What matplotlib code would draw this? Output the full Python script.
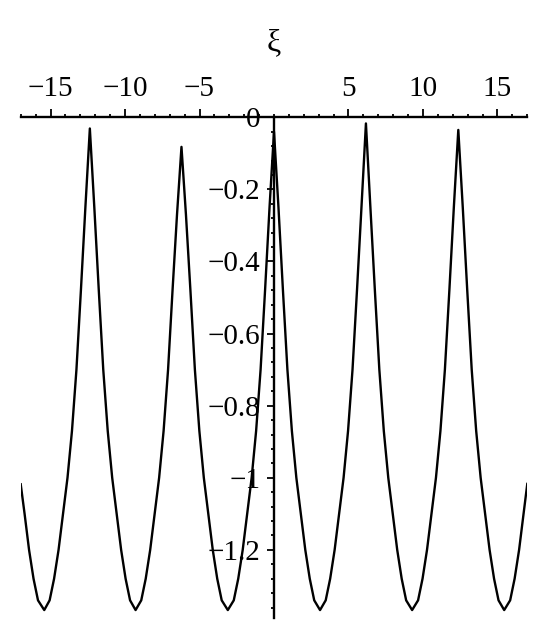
import matplotlib

matplotlib.use("Agg")
import matplotlib.pyplot as plt
import matplotlib.transforms as mtransforms
from matplotlib.ticker import FuncFormatter, MultipleLocator

# values (peaks near 0, minima near -1.367)
xi = [
    -17.00, -16.74, -16.44, -16.14, -15.84, -15.42,
    -15.06, -14.76, -14.46, -14.16, -13.86, -13.56, -13.26, -12.96, -12.66, -12.36,
    -12.06, -11.76, -11.46, -11.16, -10.86, -10.56, -10.26, -9.96, -9.66, -9.29,
    -8.91, -8.61, -8.31, -8.01, -7.71, -7.41, -7.11, -6.81, -6.51, -6.21,
    -5.91, -5.61, -5.31, -5.01, -4.71, -4.41, -4.11, -3.81, -3.51, -3.10,
    -2.70, -2.40, -2.10, -1.80, -1.50, -1.20, -0.90, -0.60, -0.30, 0.00,
    0.30, 0.60, 0.90, 1.20, 1.50, 1.80, 2.10, 2.40, 2.70, 3.09,
    3.47, 3.77, 4.07, 4.37, 4.67, 4.97, 5.27, 5.57, 5.87, 6.17,
    6.47, 6.77, 7.07, 7.37, 7.67, 7.97, 8.27, 8.57, 8.87, 9.27,
    9.67, 9.97, 10.27, 10.57, 10.87, 11.17, 11.47, 11.77, 12.07, 12.37,
    12.67, 12.97, 13.27, 13.57, 13.87, 14.17, 14.47, 14.77, 15.07, 15.45,
    15.85, 16.15, 16.45, 16.75, 17.00,
]
val = [
    -1.018, -1.10, -1.20, -1.28, -1.34, -1.367,
    -1.34, -1.28, -1.20, -1.10, -1.00, -0.87, -0.70, -0.48, -0.25, -0.031,
    -0.25, -0.48, -0.70, -0.87, -1.00, -1.10, -1.20, -1.28, -1.34, -1.367,
    -1.34, -1.28, -1.20, -1.10, -1.00, -0.87, -0.70, -0.48, -0.27, -0.082,
    -0.27, -0.48, -0.70, -0.87, -1.00, -1.10, -1.20, -1.28, -1.34, -1.367,
    -1.34, -1.28, -1.20, -1.10, -1.00, -0.87, -0.70, -0.48, -0.25, -0.04,
    -0.25, -0.48, -0.70, -0.87, -1.00, -1.10, -1.20, -1.28, -1.34, -1.367,
    -1.34, -1.28, -1.20, -1.10, -1.00, -0.87, -0.70, -0.48, -0.25, -0.017,
    -0.25, -0.48, -0.70, -0.87, -1.00, -1.10, -1.20, -1.28, -1.34, -1.367,
    -1.34, -1.28, -1.20, -1.10, -1.00, -0.87, -0.70, -0.48, -0.25, -0.035,
    -0.25, -0.48, -0.70, -0.87, -1.00, -1.10, -1.20, -1.28, -1.34, -1.367,
    -1.34, -1.28, -1.20, -1.10, -1.017,
]
x_ticks = [-15, -10, -5, 5, 10, 15]
y_ticks = [0, -0.2, -0.4, -0.6, -0.8, -1.0, -1.2]

plt.rcParams.update({"font.family": ["Liberation Serif", "DejaVu Serif"],
                     "axes.unicode_minus": True})
fig = plt.figure(figsize=(5.48, 6.40), dpi=100)
ax = fig.add_axes([0.0378, 0.0344, 0.9244, 0.7823])
ax.set_xlim(-17, 17)
ax.set_ylim(-1.389, 0)

ax.plot(xi, val, color="black", lw=1.7, solid_joinstyle="round")

# Maple-style axes: x axis along y=0 (top), y axis through x=0
for s in ("bottom", "right"):
    ax.spines[s].set_visible(False)
ax.spines["left"].set_position(("data", 0))
ax.spines["left"].set_linewidth(1.7)
ax.spines["top"].set_linewidth(1.7)

minus = lambda v, _: f"{v:g}".replace("-", "\u2212")

ax.xaxis.tick_top()
ax.set_xticks(x_ticks)
ax.xaxis.set_minor_locator(MultipleLocator(1))
ax.xaxis.set_major_formatter(FuncFormatter(minus))
ax.tick_params(axis="x", which="major", direction="out", length=6, width=1.3, pad=5, labelsize=21)
ax.tick_params(axis="x", which="minor", direction="out", length=2.5, width=1.3)

ax.set_yticks(y_ticks)
ax.yaxis.set_minor_locator(MultipleLocator(0.04))
ax.yaxis.set_major_formatter(FuncFormatter(minus))
ax.tick_params(axis="y", which="major", direction="out", length=5, width=1.3, pad=5, labelsize=21)
ax.tick_params(axis="y", which="minor", direction="out", length=2.5, width=1.3)

trans = mtransforms.blended_transform_factory(ax.transData, ax.transAxes)
ax.text(0, 1.15, "ξ", transform=trans, ha="center", va="center", fontsize=23)

fig.savefig("out.png", dpi=100, facecolor="white")
